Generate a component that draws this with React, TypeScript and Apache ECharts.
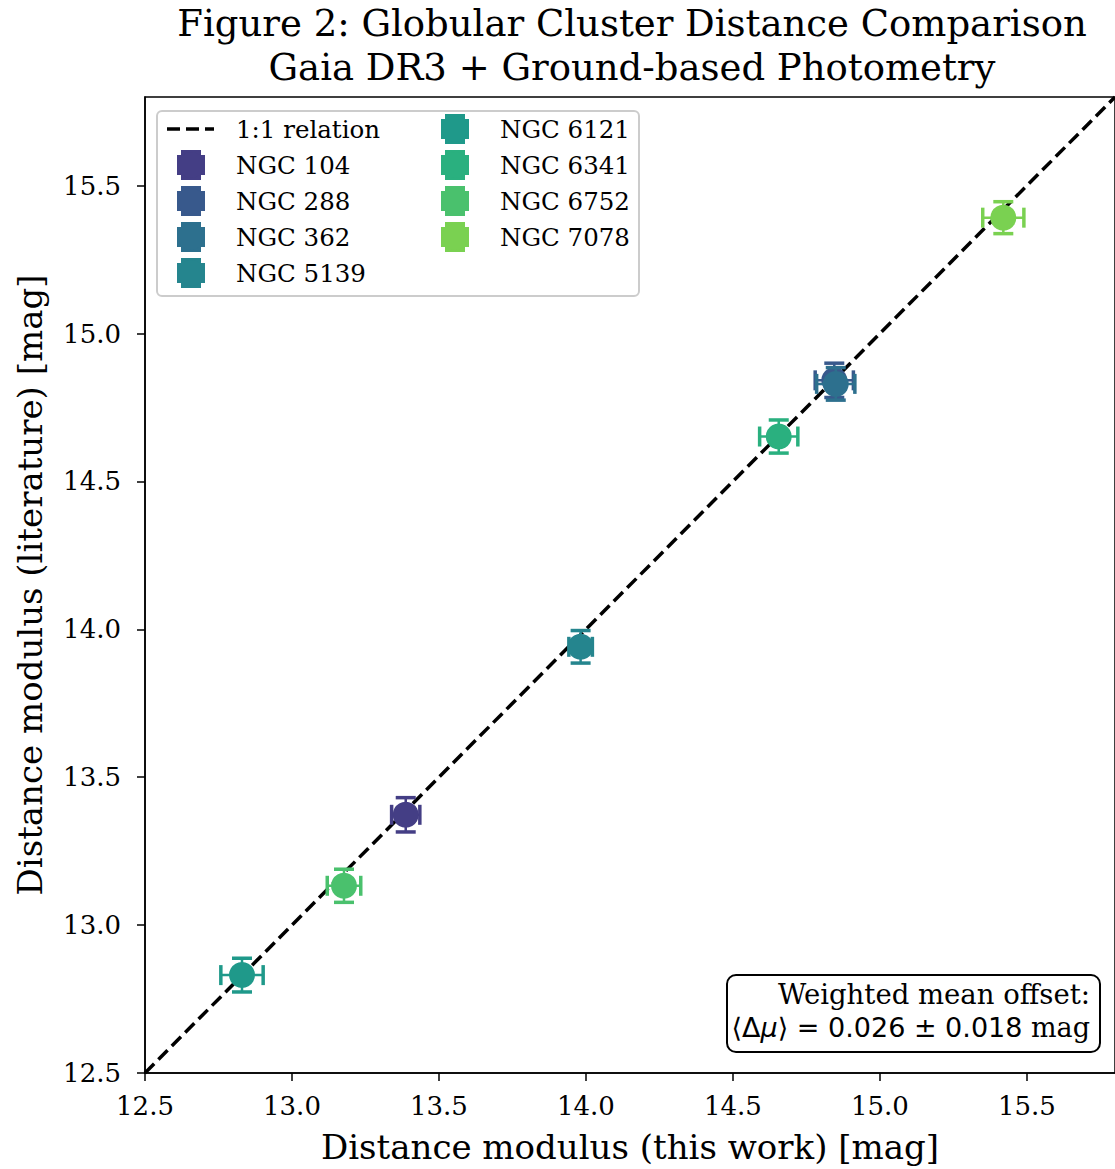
import React, { useEffect, useRef } from "react";
import * as echarts from "echarts";

// Cluster distance moduli: this work (x) vs literature (y), with 1-sigma errors
const clusters = ["NGC 104", "NGC 288", "NGC 362", "NGC 5139", "NGC 6121", "NGC 6341", "NGC 6752", "NGC 7078"];
const muThisWork = [13.387, 14.845, 14.85, 13.982, 12.83, 14.656, 13.177, 15.42];
const muLiterature = [13.373, 14.842, 14.83, 13.941, 12.831, 14.652, 13.133, 15.392];
const errThisWork = [0.048, 0.065, 0.065, 0.04, 0.072, 0.065, 0.057, 0.07];
const errLiterature = [0.058, 0.058, 0.055, 0.055, 0.057, 0.056, 0.056, 0.054];
const colors = ["#443e85", "#38598c", "#2d708e", "#25858e", "#1f998a", "#2ab07f", "#4ac16d", "#7ad151"];

const axisMin = 12.5;
const axisMax = 15.8;
const tickStep = 0.5;

const titleLines = ["Figure 2: Globular Cluster Distance Comparison", "Gaia DR3 + Ground-based Photometry"];
const xLabel = "Distance modulus (this work) [mag]";
const yLabel = "Distance modulus (literature) [mag]";
const oneToOneLabel = "1:1 relation";

const SERIF = "'DejaVu Serif', serif";
const SANS = "'DejaVu Sans', sans-serif";

const MARKER_R = 13;
const CAP_HALF = 10;

function legendIcon(cx: number, cy: number, color: string) {
  return {
    type: "group",
    children: [
      { type: "rect", shape: { x: cx - 10, y: cy - 15, width: 20, height: 30 }, style: { fill: color } },
      { type: "rect", shape: { x: cx - 14, y: cy - 10, width: 28, height: 20 }, style: { fill: color } },
      { type: "circle", shape: { cx, cy, r: MARKER_R }, style: { fill: color } },
    ],
  };
}

export default function App() {
  const ref = useRef<HTMLDivElement>(null);

  useEffect(() => {
    if (!ref.current) return;
    const chart = echarts.init(ref.current, null, { renderer: "svg" });

    const points = clusters.map((name, i) => ({
      name,
      value: [muThisWork[i], muLiterature[i], errThisWork[i], errLiterature[i]],
      itemStyle: { color: colors[i] },
    }));

    const renderItem = (params: any, api: any) => {
      const x = api.value(0);
      const y = api.value(1);
      const ex = api.value(2);
      const ey = api.value(3);
      const c = api.coord([x, y]);
      const l = api.coord([x - ex, y]);
      const r = api.coord([x + ex, y]);
      const t = api.coord([x, y + ey]);
      const b = api.coord([x, y - ey]);
      const color = colors[params.dataIndex];
      const ls = { stroke: color, lineWidth: 2.5 };
      const cs = { stroke: color, lineWidth: 3.5 };
      return {
        type: "group",
        children: [
          { type: "line", shape: { x1: l[0], y1: l[1], x2: r[0], y2: r[1] }, style: ls },
          { type: "line", shape: { x1: t[0], y1: t[1], x2: b[0], y2: b[1] }, style: ls },
          { type: "line", shape: { x1: l[0], y1: l[1] - CAP_HALF, x2: l[0], y2: l[1] + CAP_HALF }, style: cs },
          { type: "line", shape: { x1: r[0], y1: r[1] - CAP_HALF, x2: r[0], y2: r[1] + CAP_HALF }, style: cs },
          { type: "line", shape: { x1: t[0] - CAP_HALF, y1: t[1], x2: t[0] + CAP_HALF, y2: t[1] }, style: cs },
          { type: "line", shape: { x1: b[0] - CAP_HALF, y1: b[1], x2: b[0] + CAP_HALF, y2: b[1] }, style: cs },
          { type: "circle", shape: { cx: c[0], cy: c[1], r: MARKER_R }, style: { fill: color } },
        ],
      };
    };

    // Legend: two columns inside a rounded box
    const legendFont = `24.5px ${SERIF}`;
    const legendChildren: any[] = [
      {
        type: "rect",
        shape: { x: 157, y: 111, width: 482, height: 185, r: 5 },
        style: { fill: "rgba(255,255,255,0.85)", stroke: "#cccccc", lineWidth: 2 },
      },
      {
        type: "line",
        shape: { x1: 167, y1: 129, x2: 214, y2: 129 },
        style: { stroke: "#000", lineWidth: 3.5, lineDash: [13, 6] },
      },
      {
        type: "text",
        style: { x: 236, y: 129, text: oneToOneLabel, font: legendFont, fill: "#000", verticalAlign: "middle" },
      },
    ];
    clusters.forEach((label, i) => {
      const k = i + 1;
      const col = k < 5 ? 0 : 1;
      const row = k < 5 ? k : k - 5;
      const iconX = col === 0 ? 191 : 455;
      const textX = col === 0 ? 236 : 500;
      const y = 129 + row * 36;
      legendChildren.push(legendIcon(iconX, y, colors[i]));
      legendChildren.push({
        type: "text",
        style: { x: textX, y, text: label, font: legendFont, fill: "#000", verticalAlign: "middle" },
      });
    });

    const tickLabel = {
      showMaxLabel: false,
      fontFamily: SERIF,
      fontSize: 26,
      color: "#000",
      formatter: (v: number) => v.toFixed(1),
    };

    const option: any = {
      animation: false,
      backgroundColor: "#ffffff",
      title: {
        text: titleLines.join("\n"),
        left: 632,
        textAlign: "center",
        top: 1,
        padding: 0,
        textStyle: { fontFamily: SERIF, fontSize: 37, fontWeight: "normal", color: "#000", lineHeight: 44 },
      },
      grid: {
        left: 145,
        right: -5,
        top: 97,
        bottom: 96,
        show: true,
        borderColor: "#000",
        borderWidth: 1.5,
        backgroundColor: "transparent",
      },
      xAxis: {
        type: "value",
        min: axisMin,
        max: axisMax,
        interval: tickStep,
        name: xLabel,
        nameLocation: "middle",
        nameGap: 57,
        nameTextStyle: { fontFamily: SERIF, fontSize: 34, color: "#000" },
        axisLine: { show: true, lineStyle: { color: "#000", width: 1.5 } },
        axisTick: { show: true, inside: false, length: 8, lineStyle: { color: "#000", width: 1.5 } },
        axisLabel: { ...tickLabel, margin: 20 },
        splitLine: { show: false },
      },
      yAxis: {
        type: "value",
        min: axisMin,
        max: axisMax,
        interval: tickStep,
        name: yLabel,
        nameLocation: "middle",
        nameGap: 98,
        nameTextStyle: { fontFamily: SERIF, fontSize: 34, color: "#000" },
        axisLine: { show: true, lineStyle: { color: "#000", width: 1.5 } },
        axisTick: { show: true, inside: false, length: 8, lineStyle: { color: "#000", width: 1.5 } },
        axisLabel: { ...tickLabel, margin: 24 },
        splitLine: { show: false },
      },
      series: [
        {
          type: "line",
          name: oneToOneLabel,
          data: [
            [axisMin, axisMin],
            [axisMax, axisMax],
          ],
          symbol: "none",
          lineStyle: { color: "#000", width: 3.5, type: [13, 6] },
          z: 2,
        },
        {
          type: "custom",
          renderItem,
          data: points,
          z: 3,
          clip: false,
        },
      ],
      graphic: [
        { type: "group", children: legendChildren, z: 10 },
        {
          type: "group",
          z: 10,
          children: [
            {
              type: "rect",
              shape: { x: 727, y: 975, width: 373, height: 77, r: 9 },
              style: { fill: "#ffffff", stroke: "#000", lineWidth: 2 },
            },
            {
              type: "text",
              style: {
                x: 1090,
                y: 994,
                text: "Weighted mean offset:",
                font: `27.5px ${SERIF}`,
                fill: "#000",
                align: "right",
                verticalAlign: "middle",
              },
            },
            {
              type: "text",
              style: {
                x: 1090,
                y: 1027,
                text: "{s|⟨Δ}{i|μ}{s|⟩ = 0.026 ± 0.018 }{r|mag}",
                align: "right",
                verticalAlign: "middle",
                fill: "#000",
                rich: {
                  s: { fontFamily: SANS, fontSize: 27, fill: "#000" },
                  i: { fontFamily: SANS, fontStyle: "italic", fontSize: 27, fill: "#000" },
                  r: { fontFamily: SERIF, fontSize: 27, fill: "#000" },
                },
              },
            },
          ],
        },
      ],
    };

    chart.setOption(option);
    return () => chart.dispose();
  }, []);

  return <div ref={ref} style={{ width: 1115, height: 1169, position: "absolute", left: 0, top: 0 }} />;
}
